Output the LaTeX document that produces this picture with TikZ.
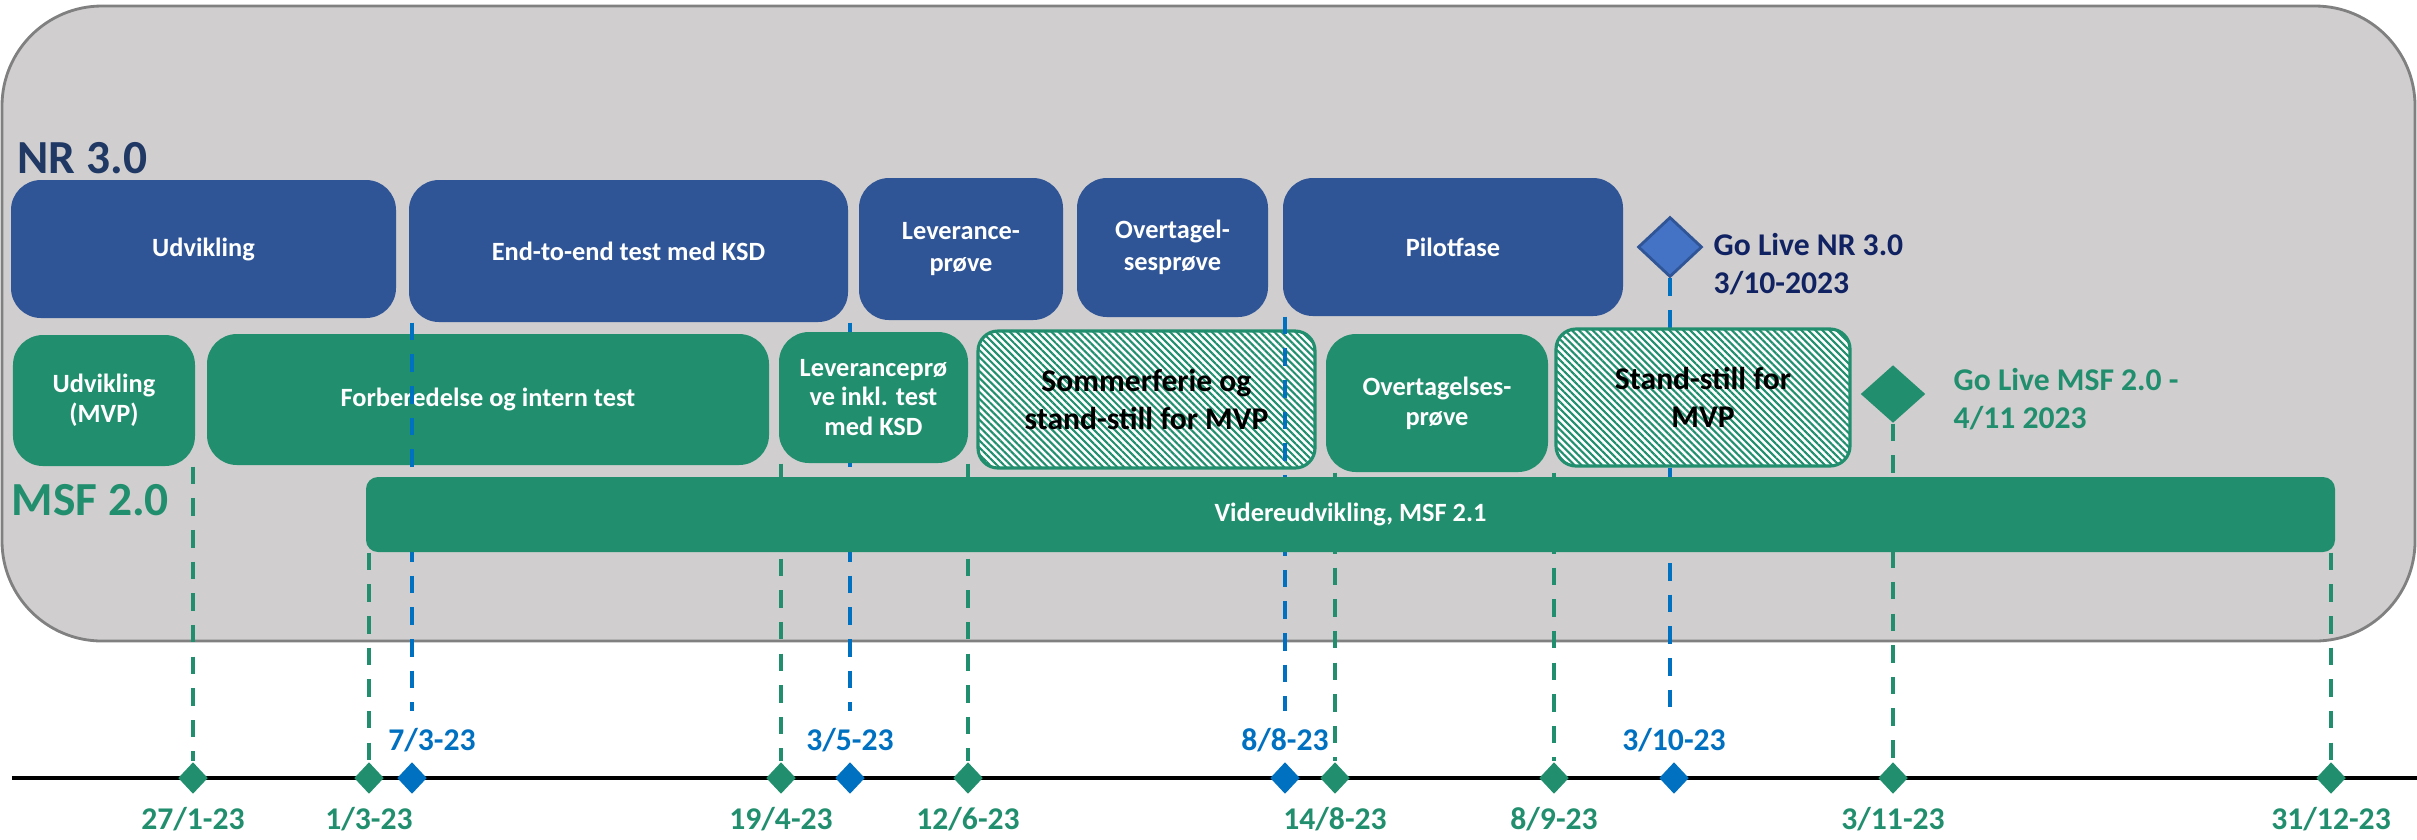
\documentclass[tikz,border=0pt]{standalone}
\usepackage{fontspec}
\setmainfont{Carlito}
\usepackage{xcolor}
\usepackage{tikz}
\usetikzlibrary{arrows.meta}
\usetikzlibrary{shapes}
\usetikzlibrary{positioning}
\usetikzlibrary{patterns.meta}
\definecolor{nrblue}{HTML}{2F5597}
\definecolor{nrnavy}{HTML}{1F3864}
\definecolor{livenavy}{HTML}{102262}
\definecolor{msfgreen}{HTML}{218F6E}
\definecolor{lineblue}{HTML}{0070C0}
\definecolor{diablue}{HTML}{4472C4}
\definecolor{framegray}{HTML}{D0CECE}
\pgfdeclarelayer{back}
\pgfsetlayers{back,main}
\tikzset{
  NRBox/.style={
    rectangle, rounded corners=3mm,
    fill=nrblue, text=white,
    font=\fontsize{7.5}{9}\selectfont\bfseries, align=center,
  },
  MSFBox/.style={
    rectangle, rounded corners=3mm,
    fill=msfgreen, text=white,
    font=\fontsize{7.5}{8.5}\selectfont\bfseries, align=center,
  },
  HatchBox/.style={
    rectangle, rounded corners=2mm,
    draw=msfgreen, line width=0.9pt,
    preaction={fill=white},
    pattern={Lines[angle=-45,distance=1.4pt,line width=0.6pt]}, pattern color=msfgreen,
    text=black, font=\fontsize{9}{11}\selectfont\bfseries, align=center,
  },
  Milestone/.style={diamond, inner sep=0pt},
  Tick/.style={diamond, inner sep=0pt, minimum width=3mm, minimum height=3.2mm},
  DateLbl/.style={font=\fontsize{9}{11}\selectfont\bfseries, inner sep=1pt},
  GreenDash/.style={draw=msfgreen, line width=1.2pt, dash pattern=on 5pt off 4pt},
  BlueDash/.style={draw=lineblue, line width=1.2pt, dash pattern=on 5pt off 4pt},
}

\begin{document}
\begin{tikzpicture}
\useasboundingbox (0,0) rectangle (24.17,-8.39);
\begin{pgfonlayer}{back}
\draw[rounded corners=1cm, fill=framegray, draw=black!50, line width=0.8pt] (0.02,-0.06) rectangle (24.15,-6.41);
\end{pgfonlayer}
% NR 3.0
\node[anchor=base west, inner sep=0pt, text=nrnavy, font=\fontsize{13.5}{16}\selectfont\bfseries] (nrlbl) at (0.17,-1.73) {NR 3.0};
\node[NRBox, minimum width=3.85cm, minimum height=1.38cm] (udv) at (2.035,-2.49) {Udvikling};
\node[NRBox, minimum width=4.39cm, minimum height=1.42cm] (e2e) at (6.285,-2.51) {End-to-end test med KSD};
\node[NRBox, minimum width=2.04cm, minimum height=1.42cm] (levp) at (9.61,-2.49) {Leverance-\\prøve};
\node[NRBox, minimum width=1.91cm, minimum height=1.39cm] (ovtp) at (11.725,-2.475) {Overtagel-\\sesprøve};
\node[NRBox, minimum width=3.40cm, minimum height=1.38cm] (pilot) at (14.53,-2.47) {Pilotfase};
\node[Milestone, fill=diablue, draw=nrblue, line width=0.8pt, minimum width=6.4mm, minimum height=6mm] (golivenr) at (16.70,-2.47) {};
\node[anchor=west, inner sep=0pt, text=livenavy, font=\fontsize{9}{11}\selectfont\bfseries, align=left] (golivenrtxt) at (17.13,-2.64) {Go Live NR 3.0\\3/10-2023};
% MSF 2.0
\node[anchor=base west, inner sep=0pt, text=msfgreen, font=\fontsize{13.5}{16}\selectfont\bfseries] (msflbl) at (0.11,-5.15) {MSF 2.0};
\node[MSFBox, minimum width=1.82cm, minimum height=1.31cm] (udvmvp) at (1.04,-4.005) {Udvikling\\(MVP)};
\node[MSFBox, minimum width=5.62cm, minimum height=1.31cm] (forb) at (4.88,-3.995) {Forberedelse og intern test};
\node[MSFBox, minimum width=1.89cm, minimum height=1.31cm] (levinkl) at (8.735,-3.975) {Leveranceprø\\ve inkl. test\\med KSD};
\node[HatchBox, minimum width=3.37cm, minimum height=1.37cm] (sommer) at (11.465,-3.995) {Sommerferie og\\stand-still for MVP};
\node[MSFBox, minimum width=2.22cm, minimum height=1.38cm] (ovts) at (14.37,-4.03) {Overtagelses-\\prøve};
\node[HatchBox, minimum width=2.94cm, minimum height=1.37cm] (standstill) at (17.03,-3.975) {Stand-still for\\MVP};
\node[Milestone, fill=msfgreen, minimum width=6.5mm, minimum height=5.8mm] (golivemsf) at (18.93,-3.94) {};
\node[anchor=west, inner sep=0pt, text=msfgreen, font=\fontsize{9}{11}\selectfont\bfseries, align=left] (golivemsftxt) at (19.53,-3.99) {Go Live MSF 2.0 -\\4/11 2023};
% tidslinje
\draw[line width=1.4pt] (0.12,-7.78) -- (24.17,-7.78);
\node[Tick, fill=msfgreen] (t2701) at (1.93,-7.78) {};
\node[Tick, fill=msfgreen] (t0103) at (3.69,-7.78) {};
\node[Tick, fill=lineblue] (t0703) at (4.12,-7.78) {};
\node[Tick, fill=msfgreen] (t1904) at (7.81,-7.78) {};
\node[Tick, fill=lineblue] (t0305) at (8.50,-7.78) {};
\node[Tick, fill=msfgreen] (t1206) at (9.68,-7.78) {};
\node[Tick, fill=lineblue] (t0808) at (12.85,-7.78) {};
\node[Tick, fill=msfgreen] (t1408) at (13.35,-7.78) {};
\node[Tick, fill=msfgreen] (t0809) at (15.54,-7.78) {};
\node[Tick, fill=lineblue] (t0310) at (16.74,-7.78) {};
\node[Tick, fill=msfgreen] (t0311) at (18.93,-7.78) {};
\node[Tick, fill=msfgreen] (t3112) at (23.31,-7.78) {};
\node[DateLbl, text=msfgreen, below=0.8mm of t2701] (d2701) {27/1-23};
\node[DateLbl, text=msfgreen, below=0.8mm of t0103] (d0103) {1/3-23};
\node[DateLbl, text=lineblue, above=0.5mm of t0703, xshift=2mm] (d0703) {7/3-23};
\node[DateLbl, text=msfgreen, below=0.8mm of t1904] (d1904) {19/4-23};
\node[DateLbl, text=lineblue, above=0.5mm of t0305] (d0305) {3/5-23};
\node[DateLbl, text=msfgreen, below=0.8mm of t1206] (d1206) {12/6-23};
\node[DateLbl, text=lineblue, above=0.5mm of t0808] (d0808) {8/8-23};
\node[DateLbl, text=msfgreen, below=0.8mm of t1408] (d1408) {14/8-23};
\node[DateLbl, text=msfgreen, below=0.8mm of t0809] (d0809) {8/9-23};
\node[DateLbl, text=lineblue, above=0.5mm of t0310] (d0310) {3/10-23};
\node[DateLbl, text=msfgreen, below=0.8mm of t0311] (d0311) {3/11-23};
\node[DateLbl, text=msfgreen, below=0.8mm of t3112] (d3112) {31/12-23};
% stiplede linjer
\draw[BlueDash, shorten >=1.3mm] (t0703 |- e2e.south) to (t0703 |- d0703.north);
\draw[BlueDash, shorten >=1.3mm] (t0808 |- pilot.south) to (t0808 |- d0808.north);
\node[MSFBox, minimum width=19.69cm, minimum height=0.75cm, rounded corners=1.2mm] (bar) at (13.505,-5.145) {Videreudvikling, MSF 2.1};
\begin{pgfonlayer}{back}
\draw[GreenDash] (t2701 |- udvmvp.south) to (t2701.north);
\draw[GreenDash] (t0103 |- bar.south) to (t0103.north);
\draw[GreenDash] (t1904 |- levinkl.south) to (t1904.north);
\draw[BlueDash, shorten >=1.3mm] (t0305 |- e2e.south) to (t0305 |- d0305.north);
\draw[GreenDash] (t1206 |- levinkl.south) to (t1206.north);
\draw[GreenDash] (t1408 |- ovts.south) to (t1408.north);
\draw[GreenDash] (t0809 |- ovts.south) to (t0809.north);
\draw[BlueDash, shorten >=1.3mm] (golivenr.south) to (golivenr.south |- d0310.north);
\draw[GreenDash] (golivemsf.south) to (golivemsf.south |- t0311.north);
\draw[GreenDash] (t3112 |- bar.south) to (t3112.north);
\end{pgfonlayer}
\end{tikzpicture}
\end{document}
